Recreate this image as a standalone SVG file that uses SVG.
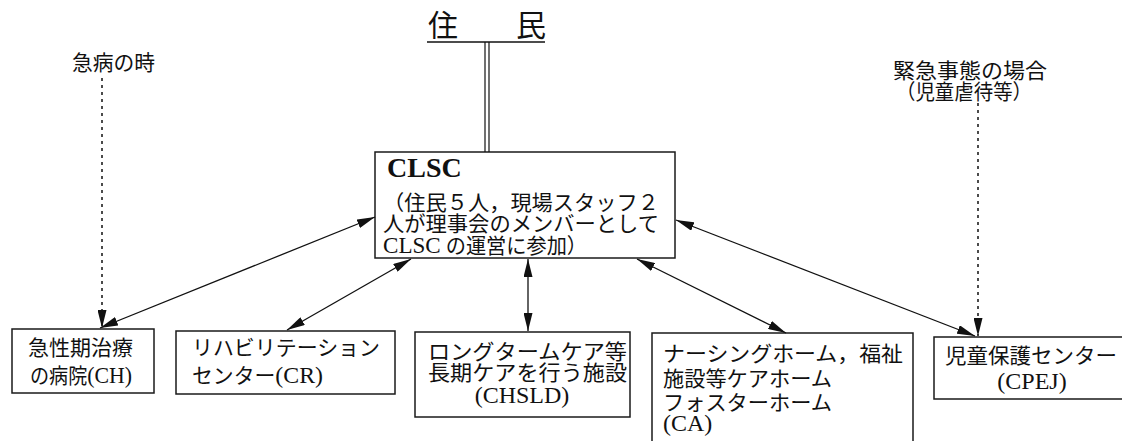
<svg xmlns="http://www.w3.org/2000/svg" width="1126" height="441" viewBox="0 0 1126 441">
<style>
.box{fill:none;stroke:#1a1a1a;stroke-width:1.5}
.t{font-family:"Liberation Serif","Noto Sans CJK JP",serif;font-size:21px;fill:#111}
.l{font-size:24px}
.b{font-family:"Liberation Serif","Noto Sans CJK JP",serif;font-size:28px;font-weight:bold;fill:#111}
.con{stroke:#111;stroke-width:1.3;fill:none}
.dot{stroke:#111;stroke-width:1.5;fill:none;stroke-dasharray:3 4}
</style>
<defs>
<marker id="ah" markerUnits="userSpaceOnUse" markerWidth="18" markerHeight="9" refX="18" refY="4.5" orient="auto-start-reverse">
<path d="M0,0 L18,4.5 L0,9 z" fill="#111"/>
</marker>
</defs>
<rect width="1126" height="441" fill="#fff"/>

<g id="residents">
<text class="t" x="428" y="36" style="font-size:30px">住</text>
<text class="t" x="516" y="36" style="font-size:30px">民</text>
<line x1="427" y1="42" x2="545" y2="42" stroke="#111" stroke-width="1.5"/>
</g>

<g id="clsc">
<rect class="box" x="375" y="152" width="300" height="106"/>
<text class="b" x="387" y="177">CLSC</text>
<text class="t" x="383" y="210" textLength="276" lengthAdjust="spacingAndGlyphs">（住民５人，現場スタッフ２</text>
<text class="t" x="383" y="231" textLength="276" lengthAdjust="spacingAndGlyphs">人が理事会のメンバーとして</text>
<text class="t" x="383" y="253" textLength="204" lengthAdjust="spacingAndGlyphs"><tspan class="l">CLSC</tspan> の運営に参加）</text>
</g>

<g id="emergency-label">
<text class="t" x="72" y="70" textLength="83" lengthAdjust="spacingAndGlyphs">急病の時</text>
</g>

<g id="crisis-label">
<text class="t" x="893" y="78" textLength="154" lengthAdjust="spacingAndGlyphs">緊急事態の場合</text>
<text class="t" x="896" y="99" textLength="136" lengthAdjust="spacingAndGlyphs">（児童虐待等）</text>
</g>

<g id="ch">
<rect class="box" x="12" y="329" width="142" height="64"/>
<text class="t" x="28" y="355" textLength="105" lengthAdjust="spacingAndGlyphs">急性期治療</text>
<text class="t" x="30" y="383" textLength="102" lengthAdjust="spacingAndGlyphs">の病院<tspan class="l">(CH)</tspan></text>
</g>

<g id="cr">
<rect class="box" x="176" y="331" width="219" height="63"/>
<text class="t" x="192" y="355" textLength="188" lengthAdjust="spacingAndGlyphs">リハビリテーション</text>
<text class="t" x="192" y="383" textLength="131" lengthAdjust="spacingAndGlyphs">センター<tspan class="l">(CR)</tspan></text>
</g>

<g id="chsld">
<rect class="box" x="415" y="332" width="215" height="85"/>
<text class="t" x="428" y="359" textLength="199" lengthAdjust="spacingAndGlyphs">ロングタームケア等</text>
<text class="t" x="428" y="380" textLength="199" lengthAdjust="spacingAndGlyphs">長期ケアを行う施設</text>
<text class="t l" x="522" y="403" text-anchor="middle">(CHSLD)</text>
</g>

<g id="ca">
<path class="box" d="M652,441 L652,333 L913,333 L913,441"/>
<text class="t" x="663" y="361" textLength="240" lengthAdjust="spacingAndGlyphs">ナーシングホーム，福祉</text>
<text class="t" x="663" y="386" textLength="169" lengthAdjust="spacingAndGlyphs">施設等ケアホーム</text>
<text class="t" x="663" y="410" textLength="169" lengthAdjust="spacingAndGlyphs">フォスターホーム</text>
<text class="t l" x="663" y="431">(CA)</text>
</g>

<g id="cpej">
<path class="box" d="M1122,337 L934,337 L934,399 L1122,399"/>
<text class="t" x="945" y="363" textLength="172" lengthAdjust="spacingAndGlyphs">児童保護センター</text>
<text class="t l" x="1032" y="389" text-anchor="middle">(CPEJ)</text>
</g>

<g id="connectors">
<line x1="485" y1="42" x2="485" y2="152" stroke="#111" stroke-width="1.2"/>
<line x1="489" y1="42" x2="489" y2="152" stroke="#111" stroke-width="1.2"/>
<line class="con" x1="100" y1="328" x2="375" y2="217" marker-start="url(#ah)" marker-end="url(#ah)"/>
<line class="con" x1="287" y1="330" x2="411" y2="259" marker-start="url(#ah)" marker-end="url(#ah)"/>
<line class="con" x1="528" y1="331" x2="528" y2="259" marker-start="url(#ah)" marker-end="url(#ah)"/>
<line class="con" x1="786" y1="333" x2="637" y2="259" marker-start="url(#ah)" marker-end="url(#ah)"/>
<line class="con" x1="975" y1="336" x2="676" y2="220" marker-start="url(#ah)" marker-end="url(#ah)"/>
<line class="dot" x1="102" y1="78" x2="102" y2="328" marker-end="url(#ah)"/>
<line class="dot" x1="978" y1="103" x2="978" y2="336" marker-end="url(#ah)"/>
</g>
</svg>
